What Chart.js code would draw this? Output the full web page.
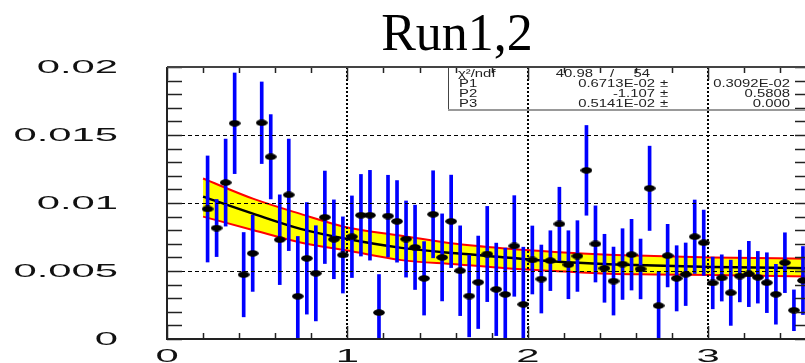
<!DOCTYPE html>
<html>
<head>
<meta charset="utf-8">
<script src="https://cdn.jsdelivr.net/npm/chart.js@4.4.1/dist/chart.umd.min.js"></script>
<style>
  html, body { margin: 0; padding: 0; background: #fff; overflow: hidden; width: 805px; height: 363px; }
  canvas { display: block; }
</style>
</head>
<body>
<canvas id="chart" width="815" height="363"></canvas>
<script>
    const binCenters = [
      0.225, 0.275, 0.325, 0.375, 0.425, 0.475, 0.525, 0.575, 0.625, 0.675,
      0.725, 0.775, 0.825, 0.875, 0.925, 0.975, 1.025, 1.075, 1.125, 1.175,
      1.225, 1.275, 1.325, 1.375, 1.425, 1.475, 1.525, 1.575, 1.625, 1.675,
      1.725, 1.775, 1.825, 1.875, 1.925, 1.975, 2.025, 2.075, 2.125, 2.175,
      2.225, 2.275, 2.325, 2.375, 2.425, 2.475, 2.525, 2.575, 2.625, 2.675,
      2.725, 2.775, 2.825, 2.875, 2.925, 2.975, 3.025, 3.075, 3.125, 3.175,
      3.225, 3.275, 3.325, 3.375, 3.425, 3.475, 3.525
    ];
    const binValues = [
      0.00956, 0.00816, 0.0115, 0.01586, 0.00473, 0.0063, 0.0159, 0.0134, 0.0073, 0.0106,
      0.00314, 0.00593, 0.00483, 0.00895, 0.00733, 0.00618, 0.00752, 0.0091, 0.0091, 0.00194,
      0.00904, 0.00865, 0.00735, 0.00674, 0.00446, 0.00917, 0.006, 0.00865, 0.00502, 0.00316,
      0.00417, 0.00625, 0.00365, 0.00328, 0.00684, 0.00255, 0.00581, 0.00441, 0.00576, 0.00846,
      0.00546, 0.0061, 0.0124, 0.00699, 0.0052, 0.00426, 0.00551, 0.0062, 0.00515, 0.01108,
      0.00245, 0.00613, 0.00446, 0.00476, 0.00752, 0.00708, 0.00412, 0.00449, 0.0034, 0.00463,
      0.00478, 0.00454, 0.00414, 0.00329, 0.00561, 0.00211, 0.0043
    ];
    const binErrors = [
      0.0039, 0.0021, 0.0032, 0.0037, 0.0031, 0.0028, 0.003, 0.0031, 0.0033, 0.0041,
      0.0044, 0.0041, 0.0035, 0.0034, 0.0029, 0.0028, 0.003, 0.003, 0.0033, 0.0028,
      0.003, 0.003, 0.0028, 0.0031, 0.0027, 0.0032, 0.0032, 0.0034, 0.0033, 0.003,
      0.0034, 0.0035, 0.0034, 0.0034, 0.0037, 0.0042, 0.0025, 0.0025, 0.0022, 0.0027,
      0.0025, 0.0026, 0.0033, 0.0028, 0.0025, 0.0025, 0.0026, 0.0026, 0.0022, 0.0031,
      0.0025, 0.0023, 0.0024, 0.0023, 0.0027, 0.0024, 0.0019, 0.0017, 0.0024, 0.0019,
      0.0024, 0.0019, 0.0022, 0.0022, 0.0022, 0.0015, 0.0025
    ];

    // fit curve and its error band, read at a few x positions
    const fitX    = [0.2,    0.48,   0.74,   1.0,     1.3,    1.6,    1.88,   2.15,   2.45,   2.7,    3.02,   3.56];
    const fitMid  = [0.01047, 0.0092, 0.0081, 0.00735, 0.0067, 0.0063, 0.0060, 0.0057, 0.0055, 0.0054, 0.0053, 0.0052];
    const fitHigh = [0.0118, 0.0103, 0.0092, 0.0082,  0.0076, 0.0070, 0.00665, 0.0064, 0.0062, 0.0061, 0.0060, 0.0059];
    const fitLow  = [0.0090, 0.0080, 0.0071, 0.0065,  0.0058, 0.0055, 0.0052, 0.0050, 0.0048, 0.00475, 0.0047, 0.0046];

    const xTickLabels = ['0', '1', '2', '3'];
    const yTickLabels = ['0', '0.005', '0.01', '0.015', '0.02'];
    const titleText = 'Run1,2';
    const statNames = ['P1', 'P2', 'P3'];
    const statValues = ['0.6713E-02', '-1.107', '0.5141E-02'];
    const statErrors = ['0.3092E-02', '0.5808', '0.000'];
    const chiLabel = 'χ²/ndf';
    const chiValue = '40.98';
    const ndfValue = '54';

    function makeMarker() {
      const c = document.createElement('canvas');
      c.width = 12;
      c.height = 7;
      const g = c.getContext('2d');
      g.fillStyle = '#000';
      g.beginPath();
      g.ellipse(6, 3.5, 5.8, 3.3, 0, 0, Math.PI * 2);
      g.fill();
      return c;
    }

    function wideText(ctx, s, x, y, sx, align) {
      ctx.save();
      ctx.translate(x, y);
      ctx.scale(sx, 1);
      ctx.textAlign = align;
      ctx.fillText(s, 0, 0);
      ctx.restore();
    }

    function seg(ctx, x1, y1, x2, y2) {
      ctx.beginPath();
      ctx.moveTo(x1, y1);
      ctx.lineTo(x2, y2);
      ctx.stroke();
    }

    // ROOT style frame: grid, inner ticks, labels, title and stats box
    const rootFrame = {
      id: 'rootFrame',
      afterDatasetsDraw(chart) {
        const ctx = chart.ctx;
        const a = chart.chartArea;
        const xs = chart.scales.x;
        const ys = chart.scales.y;
        ctx.save();

        // horizontal dashed grid
        ctx.strokeStyle = '#000';
        ctx.lineWidth = 1;
        ctx.setLineDash([4, 3]);
        yTickLabels.forEach(function (t) {
          const v = Number(t);
          if (v <= 0 || v >= ys.max) return;
          const y = Math.round(ys.getPixelForValue(v)) + 0.5;
          seg(ctx, a.left, y, a.right, y);
        });

        // vertical dotted grid
        ctx.lineWidth = 2;
        ctx.setLineDash([2, 2]);
        xTickLabels.forEach(function (t) {
          const v = Number(t);
          if (v <= 0) return;
          const x = Math.round(xs.getPixelForValue(v));
          seg(ctx, x, a.top, x, a.bottom);
        });
        ctx.setLineDash([]);

        // ticks
        ctx.strokeStyle = '#222';
        ctx.lineWidth = 1.5;
        for (let k = 0; k <= 20; k++) {
          const y = Math.round(ys.getPixelForValue(k * 0.001)) + 0.5;
          seg(ctx, a.left, y, a.left + 15, y);
          seg(ctx, a.right, y, a.right - 13, y);
        }
        for (let k = 0; k * 0.2 <= xs.max; k++) {
          const x = Math.round(xs.getPixelForValue(k * 0.2)) + 0.5;
          const len = (k % 5 === 0) ? 13 : 6;
          seg(ctx, x, a.bottom, x, a.bottom - len);
          seg(ctx, x, a.top, x, a.top + len);
        }

        // frame
        ctx.lineWidth = 2;
        ctx.strokeStyle = '#222';
        seg(ctx, a.left, a.top, a.left, a.bottom + 1);
        seg(ctx, a.left - 1, a.bottom, a.right, a.bottom);
        ctx.strokeStyle = '#444';
        seg(ctx, a.left, a.top, a.right, a.top);
        seg(ctx, a.right, a.top, a.right, a.bottom);

        // stats box
        ctx.lineWidth = 1;
        ctx.strokeStyle = '#444';
        seg(ctx, 448.5, a.top, 448.5, 110);
        ctx.lineWidth = 2;
        ctx.strokeStyle = '#999';
        seg(ctx, 448, 110, a.right, 110);

        ctx.fillStyle = '#222';
        ctx.font = '11px "Liberation Sans", Arial, sans-serif';
        ctx.textBaseline = 'alphabetic';
        wideText(ctx, chiLabel, 458, 77, 1.35, 'left');
        wideText(ctx, chiValue, 593, 77, 1.35, 'right');
        wideText(ctx, '/', 612, 77, 1.35, 'center');
        wideText(ctx, ndfValue, 650, 77, 1.35, 'right');
        const rowY = [86.5, 96.5, 107];
        statNames.forEach(function (n, i) {
          wideText(ctx, n, 459, rowY[i], 1.35, 'left');
          wideText(ctx, statValues[i], 655, rowY[i], 1.35, 'right');
          wideText(ctx, '±', 664, rowY[i], 1.35, 'center');
          wideText(ctx, statErrors[i], 790, rowY[i], 1.35, 'right');
        });

        // axis labels
        ctx.fillStyle = '#111';
        ctx.font = '19px "Liberation Sans", Arial, sans-serif';
        ctx.textBaseline = 'middle';
        yTickLabels.forEach(function (t) {
          wideText(ctx, t, 118, ys.getPixelForValue(Number(t)) + 1, 2.2, 'right');
        });
        ctx.textBaseline = 'alphabetic';
        xTickLabels.forEach(function (t) {
          wideText(ctx, t, xs.getPixelForValue(Number(t)), 361.5, 2.2, 'center');
        });

        // title
        ctx.fillStyle = '#000';
        ctx.font = '52px "Liberation Serif", "Times New Roman", serif';
        ctx.textAlign = 'center';
        ctx.fillText(titleText, 457, 50);

        ctx.restore();
      }
    };

    const errorBars = binCenters.map((x, i) => ({ x: x, y: [binValues[i] - binErrors[i], binValues[i] + binErrors[i]] }));
    const points = binCenters.map((x, i) => ({ x: x, y: binValues[i] }));
    const toXY = (vals) => fitX.map((x, i) => ({ x: x, y: vals[i] }));

    new Chart(document.getElementById('chart').getContext('2d'), {
      type: 'scatter',
      data: {
        datasets: [
          {
            type: 'line', label: 'fit low', data: toXY(fitLow),
            borderColor: '#ff0000', borderWidth: 2, pointRadius: 0,
            cubicInterpolationMode: 'monotone', fill: false, order: 4
          },
          {
            type: 'line', label: 'fit high', data: toXY(fitHigh),
            borderColor: '#ff0000', borderWidth: 2, pointRadius: 0,
            cubicInterpolationMode: 'monotone', fill: '-1', backgroundColor: '#ffff00', order: 5
          },
          {
            type: 'line', label: 'fit', data: toXY(fitMid),
            borderColor: '#000', borderWidth: 2.5, pointRadius: 0,
            cubicInterpolationMode: 'monotone', fill: false, order: 3
          },
          {
            type: 'bar', label: 'errors', data: errorBars,
            backgroundColor: '#0000ff', barThickness: 3, order: 2
          },
          {
            type: 'scatter', label: 'data', data: points,
            pointStyle: makeMarker(), pointRadius: 5, order: 1
          }
        ]
      },
      options: {
        responsive: false,
        animation: false,
        devicePixelRatio: 1,
        layout: { padding: { left: 167, top: 67, right: 7, bottom: 24 } },
        plugins: { legend: { display: false }, tooltip: { enabled: false } },
        scales: {
          x: { type: 'linear', min: 0, max: 3.553, offset: false, display: false },
          y: { type: 'linear', min: 0, max: 0.02, display: false }
        }
      },
      plugins: [rootFrame]
    });
</script>
</body>
</html>
